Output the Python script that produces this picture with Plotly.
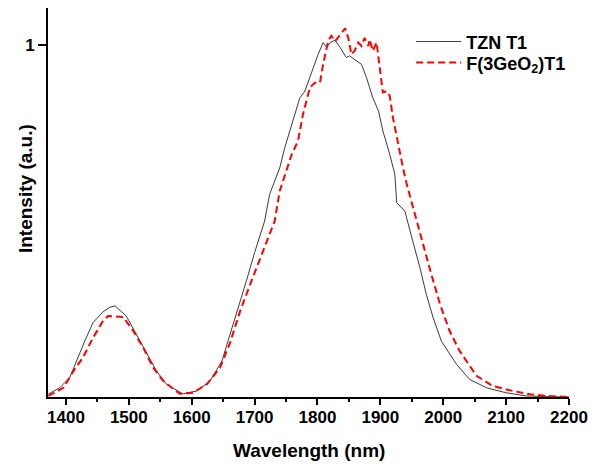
import plotly.graph_objects as go

# TZN T1 (solid dark line)
tzn_wl = [1372, 1390, 1406, 1422, 1430, 1443, 1459, 1470, 1478, 1496, 1512, 1528, 1544, 1560,
          1586, 1608, 1629, 1648, 1663, 1677, 1687, 1700, 1716, 1724, 1740, 1748, 1761, 1772,
          1780, 1791, 1801, 1809, 1815, 1820, 1828, 1836, 1846, 1851, 1862, 1870, 1878, 1888,
          1897, 1904, 1915, 1923, 1926, 1939, 1950, 1963, 1973, 1984, 1997, 2021, 2042, 2069,
          2100, 2132, 2165, 2200]
tzn_int = [0.008, 0.026, 0.055, 0.126, 0.159, 0.211, 0.242, 0.255, 0.259, 0.230, 0.178, 0.126,
           0.074, 0.036, 0.009, 0.017, 0.045, 0.102, 0.188, 0.273, 0.330, 0.410, 0.500, 0.576,
           0.651, 0.708, 0.784, 0.850, 0.869, 0.926, 0.973, 1.007, 0.993, 1.007, 1.013, 0.993,
           0.964, 0.969, 0.955, 0.945, 0.907, 0.850, 0.813, 0.756, 0.689, 0.633, 0.552, 0.528,
           0.453, 0.367, 0.292, 0.225, 0.159, 0.093, 0.050, 0.026, 0.012, 0.003, 0.001, 0.000]

# F(3GeO2)T1 (red dashed line)
ge_wl = [1372, 1396, 1412, 1427, 1443, 1459, 1467, 1480, 1491, 1507, 1523, 1539, 1555, 1581,
         1602, 1624, 1645, 1661, 1677, 1693, 1710, 1732, 1740, 1759, 1769, 1777, 1788, 1796,
         1804, 1809, 1817, 1822, 1828, 1836, 1844, 1849, 1854, 1859, 1865, 1870, 1875, 1881,
         1883, 1888, 1894, 1899, 1904, 1910, 1915, 1920, 1928, 1936, 1942, 1952, 1968, 1981,
         1995, 2010, 2026, 2053, 2079, 2111, 2138, 2164, 2200]
ge_int = [0.003, 0.026, 0.074, 0.112, 0.168, 0.216, 0.230, 0.229, 0.227, 0.188, 0.140, 0.083,
          0.045, 0.009, 0.012, 0.036, 0.083, 0.154, 0.244, 0.320, 0.400, 0.500, 0.585, 0.689,
          0.727, 0.803, 0.879, 0.893, 0.893, 0.945, 1.011, 1.026, 1.011, 1.030, 1.047, 1.020,
          0.973, 0.983, 1.007, 0.997, 1.020, 0.997, 1.016, 0.983, 1.007, 0.936, 0.865, 0.869,
          0.855, 0.794, 0.718, 0.651, 0.604, 0.538, 0.434, 0.349, 0.263, 0.188, 0.131, 0.060,
          0.031, 0.017, 0.008, 0.003, 0.000]

x_ticks = [1400, 1500, 1600, 1700, 1800, 1900, 2000, 2100, 2200]
y_ticks = [1]
y_tick_labels = ["1"]

FONT = "Liberation Sans, Arial, sans-serif"
LEG_FONT = dict(family=FONT, size=18, color="black", weight="bold")

fig = go.Figure()
fig.add_trace(go.Scatter(x=tzn_wl, y=tzn_int, mode="lines", name="TZN T1", legend="legend",
                         line=dict(color="#3a3a3a", width=1)))
fig.add_trace(go.Scatter(x=ge_wl, y=ge_int, mode="lines", name="F(3GeO<sub>2</sub>)T1",
                         legend="legend2",
                         line=dict(color="#ff0000", width=2, dash="7px,4px")))

fig.update_layout(
    width=601, height=465,
    margin=dict(l=40, r=40, t=0, b=76, autoexpand=False),
    paper_bgcolor="white", plot_bgcolor="white",
    font=dict(family=FONT, size=17, color="black", weight="bold"),
    showlegend=True,
    legend=dict(x=0.697, y=0.913, xanchor="left", yanchor="middle", itemwidth=45,
                bgcolor="rgba(0,0,0,0)", borderwidth=0, font=LEG_FONT),
    legend2=dict(x=0.697, y=0.859, xanchor="left", yanchor="middle", itemwidth=45,
                 bgcolor="rgba(0,0,0,0)", borderwidth=0, font=LEG_FONT),
    annotations=[
        dict(text="Wavelength (nm)", xref="paper", yref="paper", x=0.5, y=-0.1388,
             xanchor="center", yanchor="middle", showarrow=False,
             font=dict(family=FONT, size=19, color="black", weight="bold")),
        dict(text="Intensity (a.u.)", xref="paper", yref="paper", x=-0.0441, y=0.5347,
             xanchor="center", yanchor="middle", showarrow=False, textangle=-90,
             font=dict(family=FONT, size=19, color="black", weight="bold")),
    ],
)
fig.update_xaxes(
    range=[1371.5, 2200], tickvals=x_ticks, ticktext=[str(v) for v in x_ticks],
    ticks="outside", ticklen=6, tickwidth=2, tickcolor="black", ticklabelstandoff=-2,
    minor=dict(dtick=50, tick0=1350, ticks="outside", ticklen=3, tickwidth=2, tickcolor="black"),
    showline=True, linewidth=2, linecolor="black", showgrid=False, zeroline=False,
    tickfont=dict(family=FONT, size=17, color="black", weight="bold"),
)
fig.update_yaxes(
    range=[0, 1.105], tickvals=y_ticks, ticktext=y_tick_labels,
    ticks="outside", ticklen=8, tickwidth=2, tickcolor="black",
    showline=True, linewidth=2, linecolor="black", showgrid=False, zeroline=False,
    tickfont=dict(family=FONT, size=17, color="black", weight="bold"),
)

fig.write_html("out.html")
